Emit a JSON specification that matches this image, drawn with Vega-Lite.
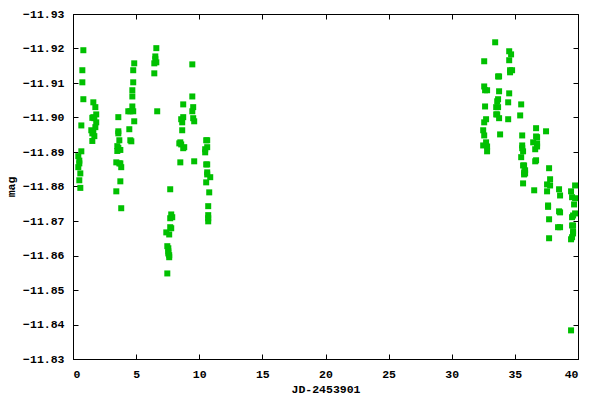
{
"$schema": "https://vega.github.io/schema/vega-lite/v6.json",
"width": 505, "height": 345,
"autosize": {"type": "none"},
"padding": {"left": 73, "top": 14, "right": 22, "bottom": 41},
"background": "white",
"config": {
  "view": {"stroke": "black", "strokeWidth": 1},
  "axis": {"grid": false, "domainColor": "black", "tickColor": "black", "labelColor": "black", "titleColor": "black",
    "labelFont": "Liberation Mono", "labelFontWeight": "bold", "labelFontSize": 11.5,
    "titleFont": "Liberation Mono", "titleFontWeight": "bold", "titleFontSize": 11.5, "tickSize": -5}
},
"data": {"values": [
{"jd":0.82,"mag":-11.9195},{"jd":0.74,"mag":-11.9137},{"jd":0.74,"mag":-11.9102},{"jd":0.82,"mag":-11.9053},{"jd":0.66,"mag":-11.8977},{"jd":0.66,"mag":-11.8902},{"jd":0.42,"mag":-11.8888},{"jd":0.50,"mag":-11.8875},{"jd":0.50,"mag":-11.8867},{"jd":0.42,"mag":-11.8856},{"jd":0.58,"mag":-11.8838},{"jd":0.50,"mag":-11.8818},{"jd":0.58,"mag":-11.8796},
{"jd":1.61,"mag":-11.9044},{"jd":1.77,"mag":-11.9030},{"jd":1.84,"mag":-11.9009},{"jd":1.53,"mag":-11.8999},{"jd":1.69,"mag":-11.8998},{"jd":1.61,"mag":-11.9001},{"jd":1.84,"mag":-11.8986},{"jd":1.77,"mag":-11.8972},{"jd":1.45,"mag":-11.8963},{"jd":1.61,"mag":-11.8960},{"jd":1.53,"mag":-11.8954},{"jd":1.69,"mag":-11.8946},{"jd":1.53,"mag":-11.8932},
{"jd":3.59,"mag":-11.9001},{"jd":3.59,"mag":-11.8960},{"jd":3.59,"mag":-11.8954},{"jd":3.67,"mag":-11.8934},{"jd":3.51,"mag":-11.8917},{"jd":3.59,"mag":-11.8912},{"jd":3.75,"mag":-11.8906},{"jd":3.51,"mag":-11.8903},{"jd":3.43,"mag":-11.8870},{"jd":3.67,"mag":-11.8867},{"jd":3.75,"mag":-11.8867},{"jd":3.82,"mag":-11.8856},{"jd":3.75,"mag":-11.8815},{"jd":3.43,"mag":-11.8786},{"jd":3.82,"mag":-11.8737},
{"jd":4.85,"mag":-11.9157},{"jd":4.77,"mag":-11.9137},{"jd":4.77,"mag":-11.9102},{"jd":4.70,"mag":-11.9079},{"jd":4.70,"mag":-11.9061},{"jd":4.70,"mag":-11.9032},{"jd":4.38,"mag":-11.9018},{"jd":4.54,"mag":-11.9018},{"jd":4.77,"mag":-11.9018},{"jd":4.85,"mag":-11.8989},{"jd":4.46,"mag":-11.8966},{"jd":4.54,"mag":-11.8934},{"jd":4.62,"mag":-11.8931},
{"jd":6.60,"mag":-11.9201},{"jd":6.52,"mag":-11.9177},{"jd":6.52,"mag":-11.9169},{"jd":6.44,"mag":-11.9157},{"jd":6.60,"mag":-11.9160},{"jd":6.44,"mag":-11.9128},{"jd":6.67,"mag":-11.9018},
{"jd":7.70,"mag":-11.8792},{"jd":7.78,"mag":-11.8719},{"jd":7.86,"mag":-11.8711},{"jd":7.70,"mag":-11.8708},{"jd":7.70,"mag":-11.8682},{"jd":7.78,"mag":-11.8679},{"jd":7.39,"mag":-11.8667},{"jd":7.62,"mag":-11.8661},{"jd":7.47,"mag":-11.8627},{"jd":7.55,"mag":-11.8621},{"jd":7.55,"mag":-11.8612},{"jd":7.55,"mag":-11.8606},{"jd":7.62,"mag":-11.8601},{"jd":7.62,"mag":-11.8595},{"jd":7.47,"mag":-11.8548},
{"jd":9.45,"mag":-11.9154},{"jd":9.45,"mag":-11.9061},{"jd":8.73,"mag":-11.9038},{"jd":9.52,"mag":-11.9030},{"jd":9.45,"mag":-11.9018},{"jd":8.73,"mag":-11.9001},{"jd":8.57,"mag":-11.8995},{"jd":8.65,"mag":-11.8986},{"jd":9.52,"mag":-11.8998},{"jd":9.60,"mag":-11.8989},{"jd":8.65,"mag":-11.8963},{"jd":8.50,"mag":-11.8928},{"jd":8.42,"mag":-11.8925},{"jd":8.57,"mag":-11.8922},{"jd":8.81,"mag":-11.8914},{"jd":8.73,"mag":-11.8911},{"jd":8.50,"mag":-11.8870},{"jd":9.60,"mag":-11.8873},
{"jd":10.55,"mag":-11.8934},{"jd":10.63,"mag":-11.8934},{"jd":10.63,"mag":-11.8914},{"jd":10.47,"mag":-11.8908},{"jd":10.47,"mag":-11.8899},{"jd":10.63,"mag":-11.8864},{"jd":10.55,"mag":-11.8864},{"jd":10.63,"mag":-11.8841},{"jd":10.63,"mag":-11.8835},{"jd":10.87,"mag":-11.8827},{"jd":10.55,"mag":-11.8812},{"jd":10.79,"mag":-11.8783},{"jd":10.71,"mag":-11.8743},{"jd":10.71,"mag":-11.8717},{"jd":10.71,"mag":-11.8708},{"jd":10.71,"mag":-11.8699},
{"jd":33.44,"mag":-11.9218},{"jd":34.55,"mag":-11.9192},{"jd":34.70,"mag":-11.9183},{"jd":32.57,"mag":-11.9163},{"jd":34.55,"mag":-11.9166},{"jd":34.62,"mag":-11.9137},{"jd":34.78,"mag":-11.9137},{"jd":34.62,"mag":-11.9131},{"jd":33.67,"mag":-11.9119},{"jd":33.75,"mag":-11.9119},{"jd":32.57,"mag":-11.9090},{"jd":32.64,"mag":-11.9079},{"jd":32.80,"mag":-11.9079},{"jd":33.75,"mag":-11.9076},{"jd":34.55,"mag":-11.9070},{"jd":33.67,"mag":-11.9053},{"jd":33.60,"mag":-11.9047},{"jd":34.47,"mag":-11.9044},{"jd":35.50,"mag":-11.9038},{"jd":32.64,"mag":-11.9032},{"jd":33.67,"mag":-11.9030},{"jd":33.52,"mag":-11.9030},{"jd":33.60,"mag":-11.9009},{"jd":33.52,"mag":-11.9009},{"jd":35.42,"mag":-11.9006},{"jd":33.75,"mag":-11.8998},{"jd":34.47,"mag":-11.8995},{"jd":32.72,"mag":-11.8995},{"jd":32.57,"mag":-11.8986},{"jd":36.68,"mag":-11.8969},{"jd":32.49,"mag":-11.8963},{"jd":37.47,"mag":-11.8960},{"jd":32.57,"mag":-11.8948},{"jd":33.83,"mag":-11.8951},{"jd":35.58,"mag":-11.8948},{"jd":36.68,"mag":-11.8945},{"jd":36.76,"mag":-11.8943},{"jd":32.72,"mag":-11.8928},{"jd":32.80,"mag":-11.8916},{"jd":32.49,"mag":-11.8919},{"jd":32.80,"mag":-11.8902},{"jd":36.45,"mag":-11.8928},{"jd":36.76,"mag":-11.8925},{"jd":36.76,"mag":-11.8916},{"jd":36.61,"mag":-11.8908},{"jd":35.58,"mag":-11.8919},{"jd":35.58,"mag":-11.8911},{"jd":35.65,"mag":-11.8902},{"jd":35.50,"mag":-11.8885},{"jd":36.68,"mag":-11.8876},{"jd":36.61,"mag":-11.8873},{"jd":35.65,"mag":-11.8861},{"jd":35.73,"mag":-11.8861},{"jd":37.71,"mag":-11.8853},{"jd":35.81,"mag":-11.8847},{"jd":35.73,"mag":-11.8841},{"jd":35.81,"mag":-11.8838},{"jd":35.73,"mag":-11.8835},{"jd":37.79,"mag":-11.8821},{"jd":35.65,"mag":-11.8809},{"jd":37.55,"mag":-11.8806},{"jd":37.79,"mag":-11.8803},{"jd":39.77,"mag":-11.8803},{"jd":36.53,"mag":-11.8789},{"jd":38.50,"mag":-11.8792},{"jd":39.45,"mag":-11.8786},{"jd":37.55,"mag":-11.8786},{"jd":38.58,"mag":-11.8774},{"jd":39.53,"mag":-11.8769},{"jd":39.77,"mag":-11.8766},{"jd":39.69,"mag":-11.8748},{"jd":37.63,"mag":-11.8745},{"jd":37.63,"mag":-11.8741},{"jd":38.50,"mag":-11.8728},{"jd":38.58,"mag":-11.8725},{"jd":39.77,"mag":-11.8722},{"jd":39.61,"mag":-11.8716},{"jd":39.53,"mag":-11.8711},{"jd":37.71,"mag":-11.8705},{"jd":39.61,"mag":-11.8687},{"jd":39.53,"mag":-11.8687},{"jd":38.42,"mag":-11.8682},{"jd":38.58,"mag":-11.8682},{"jd":39.61,"mag":-11.8670},{"jd":39.61,"mag":-11.8664},{"jd":39.53,"mag":-11.8653},{"jd":39.45,"mag":-11.8647},{"jd":37.71,"mag":-11.8650},{"jd":39.45,"mag":-11.8383}
]},
"layer": [
  {
    "mark": {"type": "square", "filled": true, "color": "#00c000", "size": 36, "opacity": 1},
    "encoding": {
      "x": {"field": "jd", "type": "quantitative", "scale": {"domain": [0, 40], "nice": false, "zero": false},
        "axis": {"orient": "bottom", "title": "JD-2453901", "values": [0,5,10,15,20,25,30,35,40], "format": "d", "labelPadding": 14, "titlePadding": 4}},
      "y": {"field": "mag", "type": "quantitative", "scale": {"domain": [-11.93, -11.83], "reverse": true, "nice": false, "zero": false},
        "axis": {"orient": "left", "title": "mag", "values": [-11.93,-11.92,-11.91,-11.90,-11.89,-11.88,-11.87,-11.86,-11.85,-11.84,-11.83], "format": ".2f", "labelPadding": 14, "titlePadding": 6}}
    }
  },
  {
    "mark": {"type": "square", "filled": true, "color": "#00c000", "size": 36, "opacity": 0},
    "encoding": {
      "x": {"field": "jd", "type": "quantitative", "axis": {"orient": "top", "labels": false, "title": null, "domain": false, "values": [0,5,10,15,20,25,30,35,40]}},
      "y": {"field": "mag", "type": "quantitative", "axis": {"orient": "right", "labels": false, "title": null, "domain": false, "values": [-11.93,-11.92,-11.91,-11.90,-11.89,-11.88,-11.87,-11.86,-11.85,-11.84,-11.83]}}
    }
  }
],
"resolve": {"axis": {"x": "independent", "y": "independent"}}
}
